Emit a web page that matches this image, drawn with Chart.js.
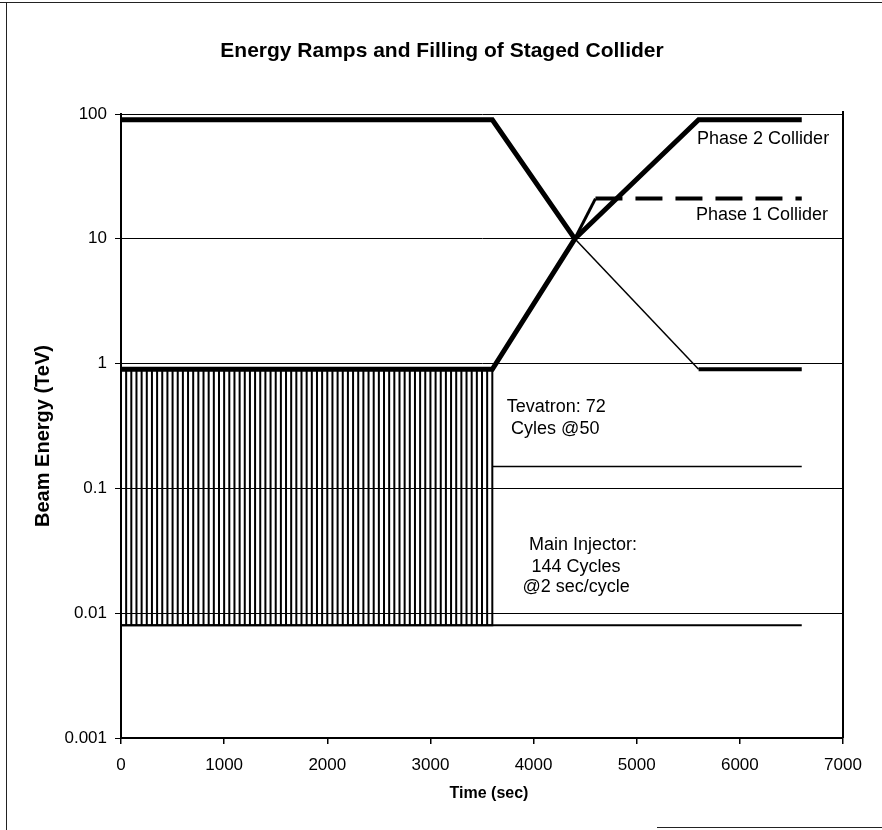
<!DOCTYPE html>
<html>
<head>
<meta charset="utf-8">
<title>Energy Ramps and Filling of Staged Collider</title>
<script src="https://cdn.jsdelivr.net/npm/chart.js@4/dist/chart.umd.min.js"></script>
<style>
  html, body { margin: 0; padding: 0; background: #fff; }
  #wrap { position: relative; width: 882px; height: 830px; overflow: hidden; }
  #chart { position: absolute; left: 0; top: 0; }
  .edge { position: absolute; background: #222; }
</style>
</head>
<body>
<div id="wrap">
  <canvas id="chart" width="882" height="830"></canvas>
  <div class="edge" style="left:0;top:2px;width:882px;height:1px"></div>
  <div class="edge" style="left:6px;top:2px;width:1px;height:828px"></div>
  <div class="edge" style="left:657px;top:827px;width:225px;height:1px"></div>
</div>
<script>
// Ejes
const xTicks = [0, 1000, 2000, 3000, 4000, 5000, 6000, 7000];
const yTicks = [0.001, 0.01, 0.1, 1, 10, 100];
const yTickLabels = ['0.001', '0.01', '0.1', '1', '10', '100'];

// Phase 2 collider: rampa ascendente (gruesa)
const rampUpTime = [0, 3600, 4400, 5600, 6600];
const rampUpEnergy = [0.9, 0.9, 10, 90, 90];

// Rampa descendente: tramo grueso, tramo fino, tramo final grueso
const rampDownTime = [0, 3600, 4400];
const rampDownEnergy = [90, 90, 10];
const rampDownThinTime = [4400, 5600];
const rampDownThinEnergy = [10, 0.9];
const rampDownEndTime = [5600, 6600];
const rampDownEndEnergy = [0.9, 0.9];

// Phase 1 collider
const phase1RiseTime = [4400, 4600];
const phase1RiseEnergy = [10, 21];
const phase1FlatTime = [4600, 6600];
const phase1FlatEnergy = [21, 21];

// Tevatron / Main Injector en espera
const tevatronTime = [3600, 6600];
const tevatronEnergy = [0.15, 0.15];
const injectorTime = [0, 6600];
const injectorEnergy = [0.008, 0.008];

// Ciclos de llenado (72 ciclos @50 s)
const cycleTimes = [
  0, 50, 100, 150, 200, 250, 300, 350, 400, 450, 500, 550, 600, 650, 700, 750,
  800, 850, 900, 950, 1000, 1050, 1100, 1150, 1200, 1250, 1300, 1350, 1400, 1450,
  1500, 1550, 1600, 1650, 1700, 1750, 1800, 1850, 1900, 1950, 2000, 2050, 2100,
  2150, 2200, 2250, 2300, 2350, 2400, 2450, 2500, 2550, 2600, 2650, 2700, 2750,
  2800, 2850, 2900, 2950, 3000, 3050, 3100, 3150, 3200, 3250, 3300, 3350, 3400,
  3450, 3500, 3550, 3600
];
const cycleLow = 0.008;
const cycleHigh = 0.9;

const pts = (xs, ys) => xs.map((x, i) => ({ x: x, y: ys[i] }));

const combPts = [];
cycleTimes.forEach(t => {
  combPts.push({ x: t, y: cycleLow }, { x: t, y: cycleHigh }, { x: t, y: cycleLow });
});

function serie(data, width, dash) {
  return {
    data: data,
    borderColor: '#000',
    backgroundColor: '#000',
    borderWidth: width,
    borderDash: dash || [],
    pointRadius: 0,
    fill: false,
    tension: 0,
    borderCapStyle: 'butt',
    borderJoinStyle: 'miter'
  };
}

const FONT = '"Liberation Sans", Arial, sans-serif';

// Plugin para textos, títulos y borde derecho
const textos = {
  id: 'textos',
  afterDraw(chart) {
    const { ctx, chartArea, scales } = chart;
    const x = scales.x, y = scales.y;
    ctx.save();
    ctx.fillStyle = '#000';
    ctx.strokeStyle = '#000';

    // borde derecho del área
    ctx.lineWidth = 2;
    ctx.beginPath();
    ctx.moveTo(chartArea.right, chartArea.top - 3);
    ctx.lineTo(chartArea.right, chartArea.bottom);
    ctx.stroke();

    ctx.textBaseline = 'middle';
    ctx.textAlign = 'center';
    ctx.font = 'bold 21px ' + FONT;
    ctx.fillText('Energy Ramps and Filling of Staged Collider', 442, 51);

    ctx.font = 'bold 16px ' + FONT;
    ctx.fillText('Time (sec)', 489, 794);

    ctx.save();
    ctx.translate(43, 436);
    ctx.rotate(-Math.PI / 2);
    ctx.font = 'bold 20px ' + FONT;
    ctx.fillText('Beam Energy (TeV)', 0, 0);
    ctx.restore();

    ctx.font = '18px ' + FONT;
    ctx.textAlign = 'left';
    ctx.fillText('Phase 2 Collider', x.getPixelForValue(5585), y.getPixelForValue(90) + 19);
    ctx.fillText('Phase 1 Collider', x.getPixelForValue(5575), y.getPixelForValue(21) + 16);

    ctx.textAlign = 'center';
    const tx = x.getPixelForValue(4220), ty = y.getPixelForValue(0.45);
    ctx.fillText('Tevatron: 72', tx, ty);
    ctx.fillText('Cyles @50', tx - 1, ty + 22);

    const mx = x.getPixelForValue(4480), my = y.getPixelForValue(0.035);
    ctx.fillText('Main Injector:', mx, my);
    ctx.fillText('144 Cycles', mx - 7, my + 22);
    ctx.fillText('@2 sec/cycle', mx - 7, my + 42);
    ctx.restore();
  }
};

new Chart(document.getElementById('chart'), {
  type: 'line',
  data: {
    datasets: [
      serie(combPts, 2),
      serie(pts(injectorTime, injectorEnergy), 2),
      serie(pts(tevatronTime, tevatronEnergy), 1.5),
      serie(pts(rampDownThinTime, rampDownThinEnergy), 1.5),
      serie(pts(rampDownTime, rampDownEnergy), 5),
      serie(pts(rampDownEndTime, rampDownEndEnergy), 4),
      serie(pts(rampUpTime, rampUpEnergy), 5),
      serie(pts(phase1RiseTime, phase1RiseEnergy), 3),
      serie(pts(phase1FlatTime, phase1FlatEnergy), 4, [27, 13])
    ]
  },
  options: {
    responsive: false,
    animation: false,
    layout: { padding: { top: 114, right: 39, bottom: 0, left: 0 } },
    plugins: { legend: { display: false }, title: { display: false }, tooltip: { enabled: false } },
    scales: {
      x: {
        type: 'linear',
        min: 0,
        max: 7000,
        afterFit(s) { s.height = 92; },
        afterBuildTicks(s) { s.ticks = xTicks.map(v => ({ value: v })); },
        grid: { drawOnChartArea: false, drawTicks: true, tickLength: 6, color: '#000', lineWidth: 1.5 },
        border: { display: true, color: '#000', width: 2 },
        ticks: {
          color: '#000',
          font: { family: FONT, size: 17 },
          padding: 11,
          maxRotation: 0,
          callback: (v) => String(v)
        }
      },
      y: {
        type: 'logarithmic',
        min: 0.001,
        max: 100,
        afterFit(s) { s.width = 121; },
        afterBuildTicks(s) { s.ticks = yTicks.map(v => ({ value: v })); },
        grid: { drawOnChartArea: true, drawTicks: true, tickLength: 6, color: '#000', lineWidth: 1 },
        border: { display: true, color: '#000', width: 2 },
        ticks: {
          color: '#000',
          font: { family: FONT, size: 17 },
          padding: 8,
          callback: (v) => {
            const i = yTicks.findIndex(t => Math.abs(t - v) / t < 1e-6);
            return i >= 0 ? yTickLabels[i] : '';
          }
        }
      }
    }
  },
  plugins: [textos]
});
</script>
</body>
</html>
